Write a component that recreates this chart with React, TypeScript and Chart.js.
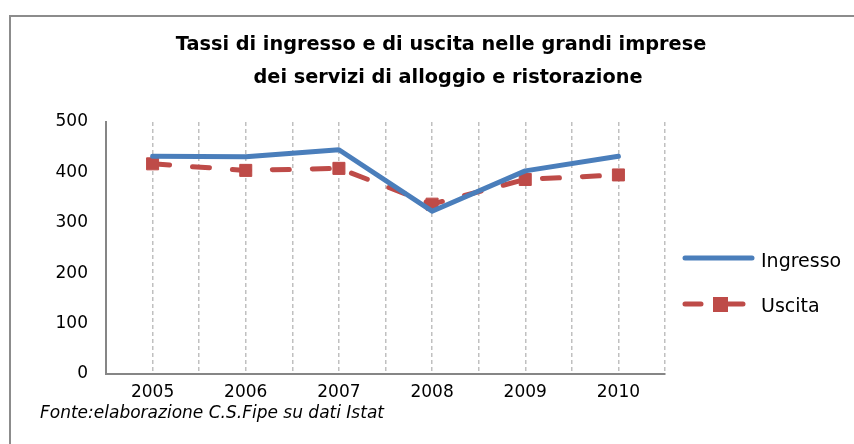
import React, { useEffect, useRef } from "react";
import { Chart, registerables } from "chart.js";

Chart.register(...registerables);

const years = ["2005", "2006", "2007", "2008", "2009", "2010"];
const ingresso = [432, 431, 445, 323, 403, 432];
const uscita = [417, 404, 408, 337, 386, 395];
const yMin = 0;
const yMax = 500;
const yStep = 100;
const seriesNames = ["Ingresso", "Uscita"];
const titleLines = [
  "Tassi di ingresso e di uscita nelle grandi imprese",
  "dei servizi di alloggio e ristorazione",
];
const sourceNote = "Fonte:elaborazione C.S.Fipe su dati Istat";

const BLUE = "#4a7ebb";
const RED = "#be4b48";
const AXIS = "#868686";
const GRID = "#c0c0c0";
const FONT = "'DejaVu Sans', sans-serif";

const decorPlugin = {
  id: "decor",
  afterDraw(chart: any) {
    const ctx = chart.ctx as CanvasRenderingContext2D;
    ctx.save();
    // Title
    ctx.fillStyle = "#000";
    ctx.textAlign = "center";
    ctx.textBaseline = "alphabetic";
    ctx.font = `bold 19.3px ${FONT}`;
    ctx.fillText(titleLines[0], 441, 50);
    ctx.fillText(titleLines[1], 448, 82.5);

    // Source note
    ctx.textAlign = "left";
    ctx.font = `oblique 17px ${FONT}`;
    ctx.fillText(sourceNote, 40, 418);

    // Legend
    const ds = chart.data.datasets;
    ctx.lineCap = "round";
    ctx.strokeStyle = ds[0].borderColor;
    ctx.lineWidth = 5;
    ctx.beginPath();
    ctx.moveTo(685, 258);
    ctx.lineTo(752, 258);
    ctx.stroke();
    ctx.strokeStyle = ds[1].borderColor;
    ctx.beginPath();
    ctx.moveTo(685, 304);
    ctx.lineTo(701, 304);
    ctx.moveTo(728, 304);
    ctx.lineTo(743, 304);
    ctx.stroke();
    ctx.fillStyle = ds[1].pointBackgroundColor;
    ctx.fillRect(713, 297, 15, 15);

    ctx.fillStyle = "#000";
    ctx.font = `19px ${FONT}`;
    ctx.textAlign = "left";
    ctx.fillText(ds[0].label, 761, 267);
    ctx.fillText(ds[1].label, 761, 312);
    ctx.restore();
  },
};

export default function App() {
  const ref = useRef<HTMLCanvasElement>(null);

  useEffect(() => {
    if (!ref.current) return;
    const chart = new Chart(ref.current, {
      type: "line",
      data: {
        labels: years,
        datasets: [
          {
            label: seriesNames[0],
            data: ingresso,
            borderColor: BLUE,
            backgroundColor: BLUE,
            borderWidth: 5,
            pointRadius: 0,
            pointHoverRadius: 0,
            tension: 0,
            borderCapStyle: "round",
            borderJoinStyle: "round",
            fill: false,
          },
          {
            label: seriesNames[1],
            data: uscita,
            borderColor: RED,
            backgroundColor: RED,
            pointBackgroundColor: RED,
            pointBorderColor: RED,
            pointBorderWidth: 1,
            borderWidth: 5,
            borderDash: [17, 23],
            borderCapStyle: "round",
            borderJoinStyle: "round",
            pointStyle: "rect",
            pointRadius: 8.5,
            pointHoverRadius: 8.5,
            tension: 0,
            fill: false,
          },
        ],
      },
      options: {
        responsive: false,
        animation: false,
        events: [],
        layout: { padding: { top: 122, right: 189, bottom: 0, left: 0 } },
        plugins: {
          legend: { display: false },
          title: { display: false },
          tooltip: { enabled: false },
        },
        scales: {
          x: {
            type: "category",
            position: "bottom",
            offset: true,
            grid: {
              display: true,
              offset: false,
              drawTicks: false,
              color: GRID,
              lineWidth: 1.5,
            },
            border: { display: true, color: AXIS, width: 2, dash: [4, 3] },
            ticks: {
              color: "#000",
              font: { family: FONT, size: 17 },
              padding: 8,
              maxRotation: 0,
            },
            afterFit: (s: any) => {
              s.height = 70;
            },
          },
          x2: {
            type: "category",
            position: "top",
            offset: true,
            grid: {
              display: true,
              offset: true,
              drawTicks: false,
              color: GRID,
              lineWidth: 1.5,
            },
            border: { display: false, dash: [4, 3] },
            ticks: { display: false },
            afterFit: (s: any) => {
              s.height = 0;
            },
          },
          y: {
            min: yMin,
            max: yMax,
            position: "left",
            grid: { display: false, drawTicks: false },
            border: { display: true, color: AXIS, width: 2 },
            ticks: {
              stepSize: yStep,
              color: "#000",
              font: { family: FONT, size: 17 },
              padding: 18,
            },
            afterFit: (s: any) => {
              s.width = 106;
            },
          },
        },
      },
      plugins: [decorPlugin],
    });
    return () => chart.destroy();
  }, []);

  return (
    <div
      style={{
        position: "fixed",
        left: 0,
        top: 0,
        width: 854,
        height: 444,
        background: "#fff",
        overflow: "hidden",
      }}
    >
      <div
        style={{
          position: "absolute",
          left: 9,
          top: 15,
          width: 900,
          height: 500,
          borderTop: "2px solid #8c8c8c",
          borderLeft: "2px solid #8c8c8c",
        }}
      />
      <canvas
        ref={ref}
        width={854}
        height={444}
        style={{ position: "absolute", left: 0, top: 0, width: 854, height: 444 }}
      />
    </div>
  );
}
